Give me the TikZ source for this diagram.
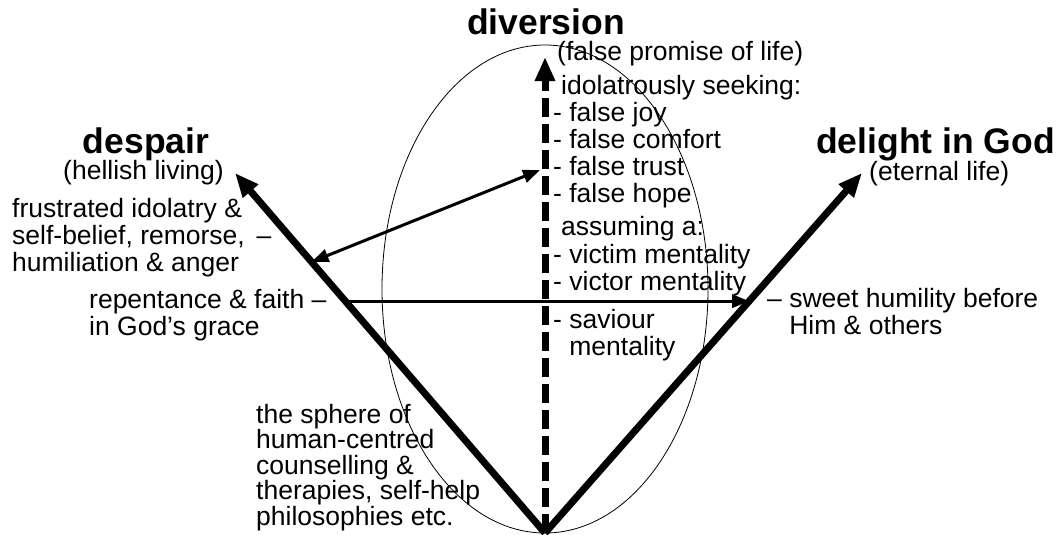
\documentclass[tikz,border=0pt]{standalone}
\usepackage{fontspec}
\setmainfont{Liberation Sans}
\usetikzlibrary{arrows.meta, positioning, calc}

\begin{document}
\begin{tikzpicture}[x=1pt,y=-1pt,
    every node/.style={inner sep=0pt,font=\fontsize{26.5}{27}\selectfont},
    title/.style={font=\fontsize{35.5}{36}\selectfont\bfseries},
    notes/.style={align=left,anchor=north west},
    bigarrow/.style={line width=7pt,-{Triangle[length=24pt,width=19pt]}},
    smallarrow/.style={line width=3pt,-{Triangle[length=17pt,width=13pt]}}]
    \useasboundingbox (0,0) rectangle (1060,535);
    % the sphere
    \draw[line width=0.8pt] (545,289) ellipse [x radius=163pt, y radius=244pt];
    % three ways out of the bottom point
    \coordinate (base) at (545,533);
    \coordinate (despairend) at (235,173);
    \coordinate (delightend) at (862,173);
    \coordinate (diversionend) at (545,57);
    \draw[bigarrow] (base) -- (despairend);
    \draw[bigarrow] (base) -- (delightend);
    \draw[bigarrow,dash pattern=on 19pt off 7pt] (base) -- (diversionend);
    % crossing arrows
    \coordinate (angerpt) at ($(base)!0.753!(despairend)$);
    \coordinate (trustpt) at (540,170);
    \draw[smallarrow,{Triangle[length=17pt,width=13pt]}-{Triangle[length=17pt,width=13pt]}] (angerpt) -- (trustpt);
    \coordinate (faithpt) at ($(base)!0.644!(despairend)$);
    \coordinate (humilitypt) at ($(base)!0.644!(delightend)$);
    \draw[smallarrow] (faithpt) -- (humilitypt);
    % titles
    \node[title,anchor=base] (diversion) at (546,35) {diversion};
    \node[anchor=base west] (promise) at (557,61) {(false promise of life)};
    \node[title,anchor=base] (despair) at (146,153) {despair};
    \node[anchor=base] (hellish) at (143.5,179) {(hellish living)};
    \node[title,anchor=base east] (delight) at (1055,153) {delight in God};
    \node[anchor=base west] (eternal) at (869,180) {(eternal life)};
    % lists beside the dashed arrow
    \node[anchor=base west] (seeking) at (561,94) {idolatrously seeking:};
    \node[notes] (falselist) at (553,102) {- false joy\\- false comfort\\- false trust\\- false hope};
    \node[anchor=base west] (assuming) at (561,235) {assuming a:};
    \node[notes] (mentalities) at (553,243.7) {- victim mentality\\- victor mentality};
    \node[notes] (saviour) at (553,308.7) {- saviour\\\phantom{- }mentality};
    % side notes
    \node[notes] (frustrated) at (12,197.7) {frustrated idolatry \&\\self-belief, remorse, \,--\\humiliation \& anger};
    \node[notes] (repentance) at (89,288.7) {repentance \& faith --\\in God’s grace};
    \node[notes] (humility) at (767,287.7) {-- sweet humility before\\\phantom{-- }Him \& others};
    \node[notes,font=\fontsize{26.5}{25.5}\selectfont] (sphere) at (256,403.7) {the sphere of\\human-centred\\counselling \&\\therapies, self-help\\philosophies etc.};
\end{tikzpicture}
\end{document}
